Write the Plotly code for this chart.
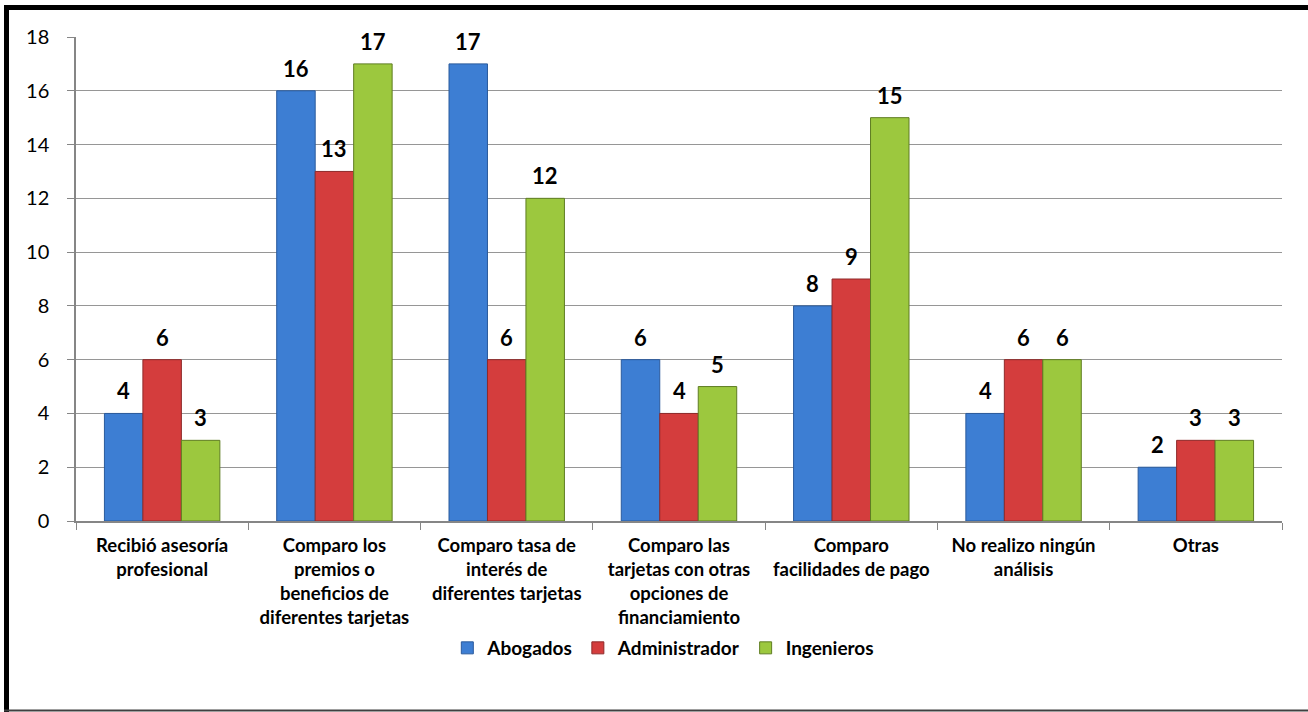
import plotly.graph_objects as go

categories = [
    "Recibió asesoría<br>profesional",
    "Comparo los<br>premios o<br>beneficios de<br>diferentes tarjetas",
    "Comparo tasa de<br>interés de<br>diferentes tarjetas",
    "Comparo las<br>tarjetas con otras<br>opciones de<br>financiamiento",
    "Comparo<br>facilidades de pago",
    "No realizo ningún<br>análisis",
    "Otras",
]
abogados = [4, 16, 17, 6, 8, 4, 2]
administrador = [6, 13, 6, 4, 9, 6, 3]
ingenieros = [3, 17, 12, 5, 15, 6, 3]

series = [
    ("Abogados", abogados, "#3d7ed3", "#2a5a9c"),
    ("Administrador", administrador, "#d43d3d", "#8e2a2a"),
    ("Ingenieros", ingenieros, "#9cc83e", "#5f7d22"),
]

FONT = "Lato"
W, H = 1308, 712
ml, mr, mt, mb = 76, 26, 37, 191
pw, ph = W - ml - mr, H - mt - mb
BARGAP = 0.33
bar_px = pw / len(categories) * (1 - BARGAP) / len(series)


def px(x):
    return (x - ml) / pw


def py(y):
    return (H - mb - y) / ph


fig = go.Figure()
annotations = []
for i, (name, vals, col, lcol) in enumerate(series):
    fig.add_trace(go.Bar(
        x=categories, y=vals, name=name,
        marker=dict(color=col, line=dict(color=lcol, width=1)),
    ))
    off = (i - (len(series) - 1) / 2) * bar_px
    for c, v in zip(categories, vals):
        annotations.append(dict(
            x=c, y=v, xref="x", yref="y", text=str(v), showarrow=False,
            xanchor="center", yanchor="bottom", xshift=off, yshift=7,
            font=dict(family=FONT, size=22, color="black", weight="bold"),
        ))

fig.update_layout(
    width=W, height=H,
    margin=dict(l=ml, r=mr, t=mt, b=mb),
    paper_bgcolor="white", plot_bgcolor="white",
    barmode="group", bargap=BARGAP, bargroupgap=0,
    font=dict(family=FONT, color="black"),
    showlegend=True,
    legend=dict(orientation="h", x=0.487, xanchor="center", y=py(648), yanchor="middle",
                font=dict(family=FONT, size=19, weight="bold"), itemwidth=30,
                traceorder="normal"),
    xaxis=dict(showline=True, linecolor="#868686", linewidth=1.5,
               ticks="outside", tickson="boundaries", tickcolor="#868686", ticklen=7,
               tickfont=dict(family=FONT, size=18.5, weight="bold"), tickangle=0,
               ticklabelstandoff=7, showgrid=False),
    yaxis=dict(range=[0, 18], dtick=2, showline=True, linecolor="#868686", linewidth=1.5,
               ticks="outside", tickcolor="#868686", ticklen=7,
               gridcolor="#969696", gridwidth=1.2, ticklabelstandoff=14,
               tickfont=dict(family=FONT, size=20), zeroline=False),
    annotations=annotations,
    shapes=[
        dict(type="line", xref="paper", yref="paper",
             x0=px(6.5), x1=px(6.5), y0=py(712), y1=py(5),
             line=dict(color="black", width=5), layer="below"),
        dict(type="line", xref="paper", yref="paper",
             x0=px(4), x1=px(1308), y0=py(7.5), y1=py(7.5),
             line=dict(color="black", width=5), layer="below"),
        dict(type="line", xref="paper", yref="paper",
             x0=px(4), x1=px(1308), y0=py(710.5), y1=py(710.5),
             line=dict(color="#404040", width=2), layer="below"),
    ],
)

fig.write_html("out.html", config={"displayModeBar": False},
               post_script="document.body.style.margin='0';")
